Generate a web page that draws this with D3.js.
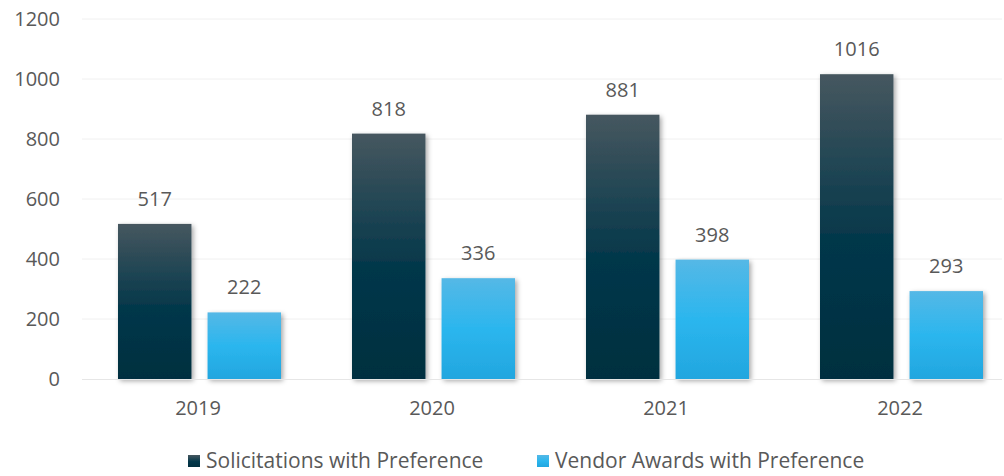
<!DOCTYPE html>
<html>
<head>
<meta charset="utf-8">
<script src="https://cdn.jsdelivr.net/npm/d3@7"></script>
<style>
  body { margin: 0; background: #fff; }
  text { font-family: "Open Sans", sans-serif; fill: #595959; }
</style>
</head>
<body>
<div id="chart"></div>
<script>
const years = ["2019", "2020", "2021", "2022"];
const series = ["Solicitations with Preference", "Vendor Awards with Preference"];
const solicitations = [517, 818, 881, 1016];
const awards = [222, 336, 398, 293];
const yTicks = [0, 200, 400, 600, 800, 1000, 1200];

const width = 1004, height = 476;
const margin = {top: 19, right: -14, bottom: 97, left: 82};
const innerW = width - margin.left - margin.right;
const innerH = height - margin.top - margin.bottom;

const svg = d3.select("#chart").append("svg")
    .attr("width", width)
    .attr("height", height);

// gradients + shadow
const defs = svg.append("defs");
const g1 = defs.append("linearGradient").attr("id", "gDark").attr("x1", 0).attr("y1", 0).attr("x2", 0).attr("y2", 1);
g1.append("stop").attr("offset", "0%").attr("stop-color", "#46575f");
g1.append("stop").attr("offset", "55%").attr("stop-color", "#03374a");
g1.append("stop").attr("offset", "100%").attr("stop-color", "#022f3f");
const g2 = defs.append("linearGradient").attr("id", "gLight").attr("x1", 0).attr("y1", 0).attr("x2", 0).attr("y2", 1);
g2.append("stop").attr("offset", "0%").attr("stop-color", "#55b8e6");
g2.append("stop").attr("offset", "50%").attr("stop-color", "#2bb6ee");
g2.append("stop").attr("offset", "100%").attr("stop-color", "#22a6df");
const fl = defs.append("filter").attr("id", "shadow").attr("x", "-20%").attr("y", "-20%").attr("width", "150%").attr("height", "150%");
fl.append("feDropShadow").attr("dx", 2).attr("dy", 2).attr("stdDeviation", 2.5)
    .attr("flood-color", "#000").attr("flood-opacity", 0.35);

const g = svg.append("g").attr("transform", `translate(${margin.left},${margin.top})`);

const x = d3.scaleBand().domain(years).range([0, innerW]);
const xSub = d3.scaleBand().domain(series).range([36, 234 - 35]).paddingInner(0.18);
const y = d3.scaleLinear().domain([0, 1200]).range([innerH, 0]);

// gridlines
g.selectAll(".grid").data(yTicks.slice(1)).join("line")
    .attr("x1", 0).attr("x2", 920)
    .attr("y1", d => y(d)).attr("y2", d => y(d))
    .attr("stroke", "#f0f0f0").attr("stroke-width", 1);

// y axis
const yAxis = g.append("g").call(d3.axisLeft(y).tickValues(yTicks).tickFormat(d3.format("d")).tickSize(0).tickPadding(22));
yAxis.select(".domain").remove();
yAxis.selectAll("text").style("font-size", "20px").attr("fill", "#595959");

// bars
const data = years.flatMap((yr, i) => [
    {year: yr, key: series[0], value: solicitations[i], fill: "url(#gDark)"},
    {year: yr, key: series[1], value: awards[i], fill: "url(#gLight)"}
]);

g.selectAll(".bar").data(data).join("rect")
    .attr("class", "bar")
    .attr("x", d => x(d.year) + xSub(d.key))
    .attr("width", xSub.bandwidth())
    .attr("y", d => y(d.value))
    .attr("height", d => innerH - y(d.value))
    .attr("fill", d => d.fill)
    .attr("filter", "url(#shadow)");

// value labels
g.selectAll(".lbl").data(data).join("text")
    .attr("x", d => x(d.year) + xSub(d.key) + xSub.bandwidth() / 2)
    .attr("y", d => y(d.value) - 18)
    .attr("text-anchor", "middle")
    .style("font-size", "20px")
    .text(d => d.value);

// x axis
const xAxis = g.append("g").attr("transform", `translate(0,${innerH})`)
    .call(d3.axisBottom(x).tickSize(0).tickPadding(22));
xAxis.select(".domain").attr("stroke", "#e6e6e6").attr("d", "M0,0.5H920");
xAxis.selectAll("text").style("font-size", "20px").attr("fill", "#595959")
    .attr("dx", -1);

// legend
const legend = svg.append("g").attr("transform", "translate(188,455)");
const legX = [0, 349];
series.forEach((s, i) => {
    const item = legend.append("g").attr("transform", `translate(${legX[i]},0)`);
    item.append("rect").attr("width", 12).attr("height", 12)
        .attr("fill", i === 0 ? "url(#gDark)" : "url(#gLight)");
    item.append("text").attr("x", 18).attr("y", 13)
        .style("font-size", "21px").text(s);
});
</script>
</body>
</html>
